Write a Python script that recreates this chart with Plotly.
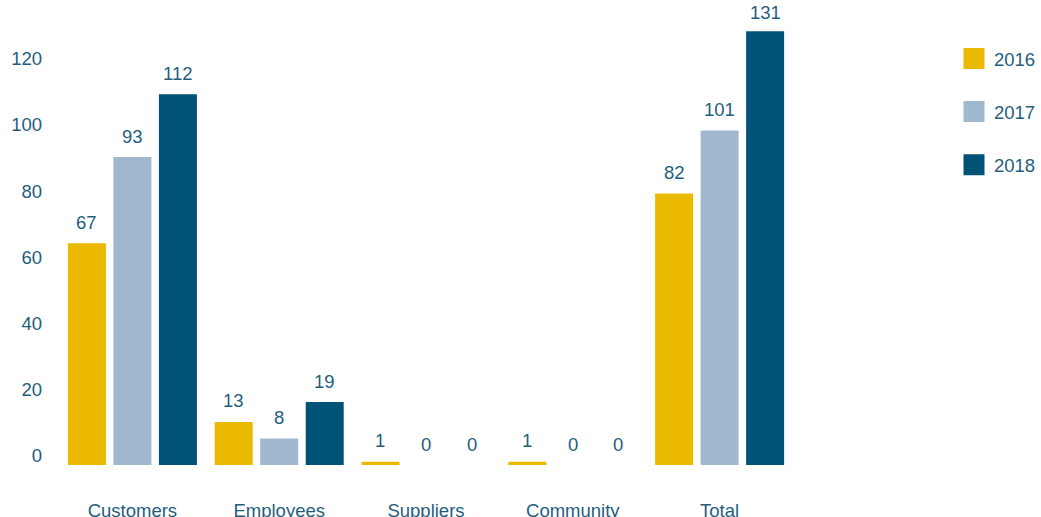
import plotly.graph_objects as go

categories = ["Customers", "Employees", "Suppliers", "Community", "Total"]
years = ["2016", "2017", "2018"]
values_2016 = [67, 13, 1, 1, 82]
values_2017 = [93, 8, 0, 0, 101]
values_2018 = [112, 19, 0, 0, 131]
series = [values_2016, values_2017, values_2018]
colors = ["#EBBA00", "#A1B9CE", "#005377"]
y_ticks = [0, 20, 40, 60, 80, 100, 120]

TEXT = "#1f5e7d"
FONT = "Liberation Sans, Arial, sans-serif"
FS = 18.5

W, H = 1041, 517
ML, MR, MT, MB = 58.5, 247.5, 17.7, 51.5
BARGAP, GROUPGAP = 0.07, 0.165
Y_MAX = 135
plot_w = W - ML - MR
plot_h = H - MT - MB
slot = plot_w / len(categories) * (1 - BARGAP) / len(years)
px_per_unit = plot_h / Y_MAX
LABEL_GAP = 21

fig = go.Figure()
for i, (yr, vals) in enumerate(zip(years, series)):
    fig.add_trace(go.Bar(
        x=categories, y=vals, name=yr, showlegend=False,
        marker=dict(color=colors[i], line=dict(width=0)),
        cliponaxis=False, hoverinfo="x+y+name",
    ))
    for c, v in zip(categories, vals):
        # keep the value label inside the page when the bar is very tall
        room = MT + (Y_MAX - v) * px_per_unit - 12
        fig.add_annotation(
            x=c, y=v, xref="x", yref="y", text=str(v), showarrow=False,
            xshift=(i - 1) * slot, yshift=min(LABEL_GAP, room),
            yanchor="middle",
            font=dict(size=FS, color=TEXT, family=FONT),
        )
# legend swatches
for i, yr in enumerate(years):
    fig.add_trace(go.Scatter(
        x=[None], y=[None], mode="markers", name=yr,
        marker=dict(symbol="square", size=16, color=colors[i],
                    line=dict(width=5, color=colors[i])),
        showlegend=True, legendgroup=yr,
    ))

fig.update_layout(
    width=W, height=H,
    margin=dict(l=ML, r=MR, t=MT, b=MB, autoexpand=False),
    paper_bgcolor="white", plot_bgcolor="white",
    barmode="group", bargap=BARGAP, bargroupgap=GROUPGAP,
    font=dict(family=FONT, size=FS, color=TEXT),
    showlegend=True,
    legend=dict(xref="container", yref="container", x=1.0, y=0.9226,
                xanchor="right", yanchor="top",
                font=dict(size=FS, color=TEXT), tracegroupgap=26,
                itemsizing="trace", bgcolor="rgba(0,0,0,0)"),
    xaxis=dict(showline=False, showgrid=False, zeroline=False,
               ticks="", ticklabelstandoff=32, automargin=False,
               tickfont=dict(size=FS, color=TEXT)),
    yaxis=dict(range=[0, Y_MAX], tickvals=y_ticks, showgrid=False,
               zeroline=False, showline=False, ticks="", automargin=False,
               ticklabelstandoff=16, ticklabelshift=-9,
               tickfont=dict(size=FS, color=TEXT)),
)

# remove the page's default body margin so the figure fills the window
post = ("document.documentElement.style.overflow='hidden';"
        "document.body.style.margin='0';"
        "document.body.style.overflow='hidden';")
fig.write_html("out.html", post_script=post,
               config={"displayModeBar": False})
